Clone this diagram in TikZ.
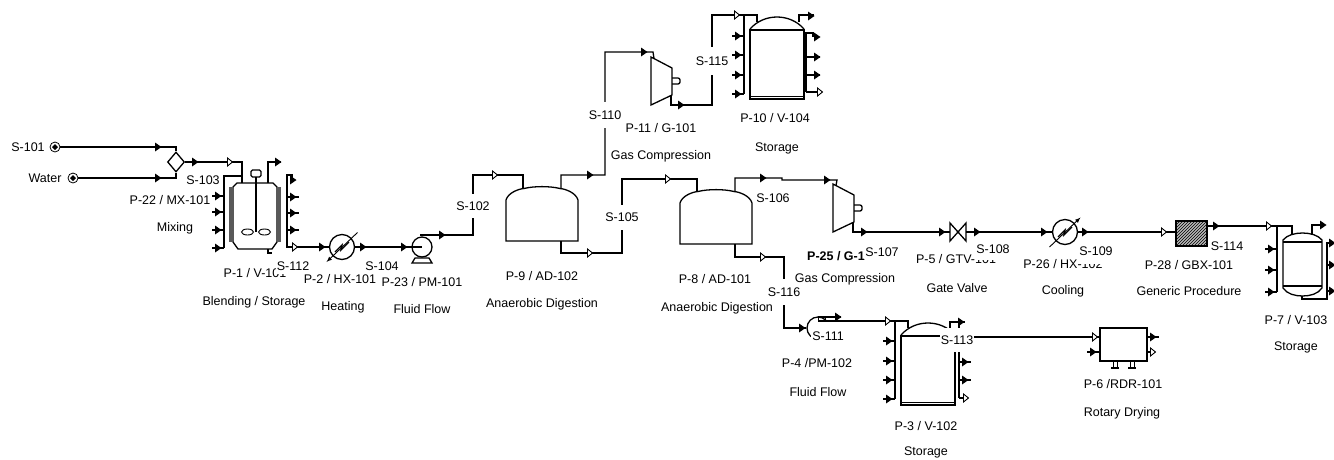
\documentclass[tikz,border=0pt]{standalone}
\usepackage{fontspec}
\setmainfont{Liberation Sans}
\usetikzlibrary{shapes.geometric,arrows,calc,backgrounds,patterns}

\tikzset{
  every path/.append style={line width=1.3pt},
  pname/.style={font=\fontsize{12.5}{14}\selectfont, inner sep=0pt},
  sname/.style={font=\fontsize{12.5}{14}\selectfont, fill=white, inner xsep=1pt, inner ysep=0pt, minimum height=14pt},
  ftip/.pic={\fill (-3,-4.5) -- (3.5,0) -- (-3,4.5) -- cycle;},
  htip/.pic={\draw[line width=0.9pt, fill=white] (-2.5,-4) -- (2.5,0) -- (-2.5,4) -- cycle;},
  stub/.pic={\draw (-6,0) -- (6,0); \fill (-3,-4.5) -- (3.5,0) -- (-3,4.5) -- cycle;},
  digester/.pic={
    \draw (-36,0) -- (-36,-41) .. controls (-34,-48) and (-24,-52) .. (-18,-52.5)
      .. controls (-8,-55) and (8,-55) .. (18,-52.5)
      .. controls (24,-52) and (34,-48) .. (36,-41) -- (36,0) -- cycle;
    \coordinate (-in) at (-19,-52);
    \coordinate (-out) at (19,-52);
    \coordinate (-bot) at (19,0);
  },
  compressor/.pic={
    \draw (0,0) -- (21,11) -- (21,38) -- (0,48) -- cycle;
    \draw[rounded corners=2pt] (21,21) -- (29,21) -- (29,27) -- (21,27);
    \coordinate (-in) at (3,1.5);
    \coordinate (-out) at (20,38);
  },
  tank/.pic={
    \draw (-27,0) rectangle (27,-69);
    \draw[line width=0.7pt] (-27,-3) -- (27,-3);
    \draw (-27,-70) .. controls (-20,-78) and (-10,-82) .. (0,-82) .. controls (10,-82) and (20,-78) .. (27,-70);
    \coordinate (-in) at (-20,-77);
    \coordinate (-out) at (22,-77);
    \coordinate (-side) at (27,-68);
  },
  heatx/.pic={
    \node[circle, draw, line width=1.3pt, inner sep=0pt, minimum size=25pt] (-c) at (0,0) {};
    \draw (-7,5) -- (0,-2) -- (-1,3) -- (7,-5);
    \coordinate (-ne) at (15.5,-14.5);
    \coordinate (-sw) at (-15.5,15);
  },
}

\begin{document}
\begin{tikzpicture}[x=1pt, y=-1pt]
\useasboundingbox (0,0) rectangle (1334,459);

% unit names
\node[pname] at (170,200) {P-22 / MX-101};
\node[pname] at (175,228) {Mixing};
\node[pname] at (255,273) {P-1 / V-101};
\node[pname] at (254,302) {Blending / Storage};
\node[pname] at (340,279) {P-2 / HX-101};
\node[pname] at (343,307) {Heating};
\node[pname] at (422,282) {P-23 / PM-101};
\node[pname] at (422,309) {Fluid Flow};
\node[pname] at (542,276) {P-9 / AD-102};
\node[pname] at (542,304) {Anaerobic Digestion};
\node[pname] at (715,279) {P-8 / AD-101};
\node[pname] at (661,128) {P-11 / G-101};
\node[pname] at (661,156) {Gas Compression};
\node[pname] at (775,118) {P-10 / V-104};
\node[pname] at (777,148) {Storage};
\node[pname, font=\fontsize{12.5}{14}\selectfont\bfseries] at (836,256) {P-25 / G-1};
\node[pname] at (956,259) {P-5 / GTV-101};
\node[pname] at (957,288) {Gate Valve};
\node[pname] at (1063,264) {P-26 / HX-102};
\node[pname] at (1063,291) {Cooling};
\node[pname] at (1189,265) {P-28 / GBX-101};
\node[pname] at (1189,291) {Generic Procedure};
\node[pname] at (1296,320) {P-7 / V-103};
\node[pname] at (1296,347) {Storage};
\node[pname] at (817,363) {P-4 /PM-102};
\node[pname] at (818,392) {Fluid Flow};
\node[pname] at (926,426) {P-3 / V-102};
\node[pname] at (926,452) {Storage};
\node[pname] at (1123,384) {P-6 /RDR-101};
\node[pname] at (1122,413) {Rotary Drying};

% stream names
\node[sname] (s101) at (28,147) {S-101};
\node[sname] (swater) at (45,178) {Water};
\node[sname] (s103) at (203,180) {S-103};
\node[sname, minimum height=16pt] (s112) at (293,266) {S-112};
\node[sname] (s104) at (382,266) {S-104};
\node[sname, minimum height=24pt] (s102) at (473,206) {S-102};
\node[sname, minimum height=25pt] (s105) at (622,217) {S-105};
\node[sname, minimum height=26pt] (s110) at (605,115) {S-110};
\node[sname, minimum height=28pt] (s115) at (712,61) {S-115};
\node[sname] (s106) at (773,198) {S-106};
\node[sname, minimum height=26pt] (s116) at (784,292) {S-116};
\node[sname] (s107) at (882,252) {S-107};
\node[sname, minimum height=22pt] (s108) at (993,249) {S-108};
\node[sname, minimum height=26pt] (s109) at (1096,251) {S-109};
\node[sname] (s114) at (1227,246) {S-114};
\node[sname, minimum height=28pt] (s111) at (828,336) {S-111};
\node[sname, minimum height=24pt] (s113) at (957,340) {S-113};
\node[pname] at (717,308) {Anaerobic Digestion};
\node[pname] at (845,279) {Gas Compression};

\begin{scope}[on background layer]
% feeds and mixer
\node[circle, draw, line width=0.8pt, inner sep=0pt, minimum size=10pt] (f101) at (55,147) {};
\node[circle, draw, line width=0.8pt, inner sep=0pt, minimum size=10pt] (fwater) at (73,178) {};
\fill (f101) ++(0,-3) -- ++(3,3) -- ++(-3,3) -- ++(-3,-3) -- cycle;
\fill (fwater) ++(0,-3) -- ++(3,3) -- ++(-3,3) -- ++(-3,-3) -- cycle;
\node[diamond, draw, line width=1.3pt, inner sep=0pt, minimum width=17pt, minimum height=20pt] (mx) at (176,162) {};

% blending vessel
\draw (233,187) -- (237,183) -- (273,183) -- (277,187) -- (277,242) -- (272,249) -- (238,249) -- (233,242) -- cycle;
\fill[black!65] (229,187) rectangle (233,242);
\fill[black!65] (277,187) rectangle (281,242);
\draw[rounded corners=1.5pt] (251,170) rectangle (261,177);
\coordinate (motor) at (256,177);
\coordinate (hub) at (256,232);
\draw (motor) -- (hub);
\draw[line width=0.9pt] (247.5,232) ellipse (6 and 3);
\draw[line width=0.9pt] (264.5,232) ellipse (6 and 3);
\draw (268,249) -- (268,253) -- (272,253);
\coordinate (v101in) at (242,183);
\coordinate (v101out) at (268,183);

% other units
\pic (hx1) at (342,247) {heatx};
\pic (hx2) at (1065,232) {heatx};
\draw[line width=0.9pt, -latex] (hx1-ne) -- (hx1-sw);
\draw[line width=0.9pt, -latex] (hx2-sw) -- (hx2-ne);
\node[circle, draw, line width=1.3pt, inner sep=0pt, minimum size=20pt] (pm1) at (422,247) {};
\draw (415,258) -- (429,258) -- (432,263) -- (412,263) -- cycle;
\node[circle, draw, line width=1.3pt, inner sep=0pt, minimum size=22pt] (pm2) at (818,328) {};
\pic (p9) at (542,241) {digester};
\pic (p8) at (716,244) {digester};
\pic (g101) at (651,57) {compressor};
\pic (g25) at (833,184) {compressor};
\pic (v104) at (777,99) {tank};
\pic (v102) at (928,405) {tank};
\draw (950,223) -- (950,241) -- (966,223) -- (966,241) -- cycle;
\coordinate (gtvw) at (950,232);
\coordinate (gtve) at (966,232);
\node[rectangle, draw, line width=1.3pt, inner sep=0pt, minimum width=31pt, minimum height=25pt, fill=gray!55, postaction={pattern=north east lines}] (gbx) at (1191.5,233.5) {};
\node[rectangle, draw, line width=1.3pt, inner sep=0pt, minimum width=47pt, minimum height=33pt] (rdr) at (1123.5,344.5) {};
\foreach \x in {1115,1132} {
  \draw[line width=0.9pt] (\x-2,361) -- (\x-2,368);
  \draw[line width=0.9pt] (\x+2,361) -- (\x+2,368);
  \draw (\x-4,368) -- (\x+4,368);
}
% last storage vessel
\draw (1283,240) .. controls (1287,235) and (1295,233) .. (1302.5,233) .. controls (1310,233) and (1318,235) .. (1322,240)
  -- (1322,288) .. controls (1318,294) and (1310,296) .. (1302.5,296) .. controls (1295,296) and (1287,294) .. (1283,288) -- cycle;
\draw (1283,242) -- (1322,242);
\draw (1283,286) -- (1322,286);
\coordinate (v103in) at (1292,235);
\coordinate (v103out) at (1312,234);
\coordinate (v103bot) at (1302,296);

% streams
\draw (f101) -| (mx.north);
\draw (fwater) -| (mx.south);
\draw (mx.east) -| (v101in);
\coordinate (e101a) at (281,162);
\draw (v101out) |- (e101a);
\coordinate (l101a) at (224,248);
\coordinate (l101b) at (242,176);
\draw (l101a) |- (l101b);
\coordinate (r101a) at (292,178);
\coordinate (r101b) at (287,175);
\coordinate (r101c) at (287,247);
\draw (r101a) |- (r101b) -- (r101c) -- (hx1-c.west);
\draw (hx1-c.east) -- (pm1.center);
\coordinate (pm1top) at (420,235);
\coordinate (b102) at (523,175);
\draw (pm1top) -| (s102.center) |- (b102) -- (p9-in);
\coordinate (c110) at (605,175);
\coordinate (b110) at (653,52);
\draw (p9-out) |- (c110) -- (s110.center) |- (b110) -- (g101-in);
\coordinate (c105) at (622,253);
\coordinate (b105) at (697,179);
\draw (p9-bot) |- (c105) -- (s105.center) |- (b105) -- (p8-in);
\coordinate (c115) at (712,105);
\coordinate (b115) at (757,15);
\draw (g101-out) |- (c115) -- (s115.center) |- (b115) -- (v104-in);
\coordinate (l104a) at (744,15);
\coordinate (l104b) at (744,94);
\draw (l104a) -- (l104b);
\coordinate (e104) at (814,15);
\draw (v104-out) |- (e104);
\coordinate (r104a) at (813,37);
\coordinate (r104b) at (806,33);
\coordinate (r104c) at (806,92);
\draw (r104a) |- (r104b) -- (r104c);
\coordinate (b106a) at (782,178);
\coordinate (b106b) at (837,180);
\draw (p8-out) |- (b106a) |- (b106b) -- (g25-in);
\draw (g25-out) |- (gtvw);
\draw (gtve) -- (hx2-c.west);
\draw (hx2-c.east) -- (hx2-c.east -| gbx.west);
\coordinate (gbxout) at (1207,226);
\coordinate (b114) at (1292,226);
\draw (gbxout) -- (b114) -- (v103in);
\coordinate (l103a) at (1277,226);
\coordinate (l103b) at (1277,292);
\draw (l103a) -- (l103b);
\coordinate (e103) at (1325,225);
\draw (v103out) |- (e103);
\coordinate (r103a) at (1327,299);
\coordinate (r103b) at (1327,243);
\coordinate (r103c) at (1334,243);
\draw (v103bot) |- (r103a) -- (r103b) -- (r103c);
\coordinate (b116) at (784,257);
\draw (p8-bot) |- (b116) -- (s116.center) |- (pm2.west);
\coordinate (p4a) at (818,321);
\coordinate (p4b) at (908,321);
\draw (p4a) -- (p4b) -- (v102-in);
\coordinate (p4c) at (818,317);
\coordinate (p4d) at (841,317);
\draw (p4c) -- (p4d);
\draw[line width=0.9pt] (p4c) rectangle (825,321);
\coordinate (l102a) at (895,321);
\coordinate (l102b) at (895,399);
\draw (l102a) -- (l102b);
\coordinate (e102) at (965,322);
\draw (v102-out) |- (e102);
\coordinate (r102a) at (959,322);
\coordinate (r102b) at (959,398);
\draw (r102a) -- (r102b);
\coordinate (rdrin) at (1100,337);
\draw (v102-side) -- (rdrin);

% stream marks
\foreach \x/\y in {158/147,158/178,195/162,278/162,322/247,363/247,404/247,442/235,590/175,644/52,681/105,811/16,
                   763/178,827/180,864/232,942/232,977/232,1044/232,1085/232,1216/226,1323/225,802/328,838/317,961/322}
  \pic at (\x,\y) {ftip};
\foreach \x/\y in {230/162,295/247,495/175,590/253,668/179,737/15,763/257,1164/232,1269/226,888/321,1095/337}
  \pic at (\x,\y) {htip};
% side nozzles
\foreach \x/\y in {218/196,218/212,218/230,218/248,293/197,293/213,293/230,
                   738/36,738/55,738/75,738/94,889/341,889/361,889/380,889/399,965/362,965/380,
                   1271/249,1271/270,1271/292,1332/265,1332/291,1093/352,1153/337}
  \pic at (\x,\y) {stub};
\pic at (293,180) {ftip};
\pic at (1332,243) {ftip};
\foreach \y in {57,75} {\draw (806,\y) -- (820,\y); \pic at (817,\y) {ftip};}
\pic at (817,37) {ftip};
\draw (806,92) -- (820,92); \pic at (820,92) {htip};
\draw (959,398) -- (966,398); \pic at (966,398) {htip};
\draw (1147,352) -- (1153,352); \pic at (1153,352) {htip};
\end{scope}
\end{tikzpicture}
\end{document}
